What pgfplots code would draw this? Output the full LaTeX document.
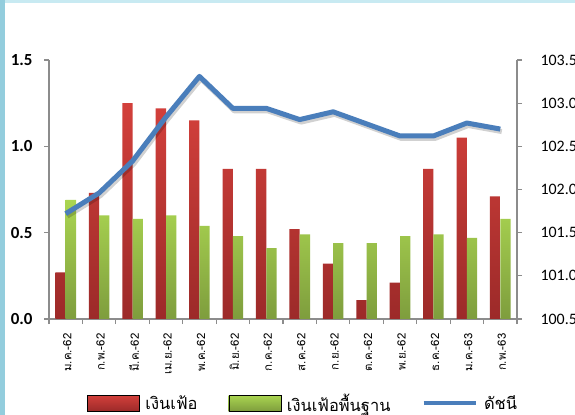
\documentclass[border=0pt]{standalone}
\usepackage{fontspec}
\usepackage{pgfplots}
\pgfplotsset{compat=1.18}
\setmainfont{Carlito}
\newfontfamily\thaifont[Script=Thai]{Loma}
\definecolor{redtop}{HTML}{D3403B}
\definecolor{redbot}{HTML}{9C2A29}
\definecolor{greentop}{HTML}{AAD551}
\definecolor{greenbot}{HTML}{7E9D3D}
\definecolor{lineblue}{HTML}{4A7EBB}
\definecolor{axgray}{HTML}{8C8C8C}
\definecolor{leftstrip}{HTML}{93CDDD}
\definecolor{topstrip}{HTML}{C8EAF2}
\begin{document}
\begin{tikzpicture}
\useasboundingbox (0bp,0bp) rectangle (575bp,415bp);
\clip (0bp,0bp) rectangle (575bp,415bp);
\fill[white] (0bp,0bp) rectangle (575bp,415bp);
\fill[leftstrip] (0bp,0bp) rectangle (5bp,415bp);
\fill[topstrip] (5bp,412bp) rectangle (575bp,415bp);
\begin{axis}[
  at={(49bp,96bp)}, anchor=south west, scale only axis,
  width=468bp, height=259bp,
  xmin=0, xmax=14, ymin=0, ymax=1.5,
  axis y line*=left, axis x line*=bottom,
  axis line style={axgray, line width=1.2bp, -},
  tick align=outside,
  major tick length=5bp, minor tick length=5bp,
  ytick={0,0.5,1,1.5},
  yticklabel style={font=\bfseries\fontsize{17}{17}\selectfont, xshift=-8bp, /pgf/number format/.cd, fixed, precision=1, fixed zerofill, assume math mode=true},
  y tick style={axgray, line width=1.2bp},
  xtick={0.5,1.5,...,13.5},
  xticklabels={ม.ค.-62, ก.พ.-62, มี.ค.-62, เม.ย.-62, พ.ค.-62, มิ.ย.-62, ก.ค.-62, ส.ค.-62, ก.ย.-62, ต.ค.-62, พ.ย.-62, ธ.ค.-62, ม.ค.-63, ก.พ.-63},
  xticklabel style={font=\thaifont\fontsize{11.5}{13}\selectfont, rotate=90, anchor=east, xshift=-6bp, yshift=-1.5bp},
  major x tick style={draw=none},
  minor xtick={0,1,...,14},
  minor x tick style={axgray, line width=1.2bp},
  ybar, bar width=10.3bp,
]
\addplot[draw=none, top color=redtop, bottom color=redbot, bar shift=-5.15bp] coordinates {
(0.5,0.27) (1.5,0.73) (2.5,1.25) (3.5,1.22) (4.5,1.15) (5.5,0.87) (6.5,0.87)
(7.5,0.52) (8.5,0.32) (9.5,0.11) (10.5,0.21) (11.5,0.87) (12.5,1.05) (13.5,0.71)};
\addplot[draw=none, top color=greentop, bottom color=greenbot, bar shift=5.15bp] coordinates {
(0.5,0.69) (1.5,0.60) (2.5,0.58) (3.5,0.60) (4.5,0.54) (5.5,0.48) (6.5,0.41)
(7.5,0.49) (8.5,0.44) (9.5,0.44) (10.5,0.48) (11.5,0.49) (12.5,0.47) (13.5,0.58)};
\end{axis}
\begin{axis}[
  at={(49bp,96bp)}, anchor=south west, scale only axis,
  width=468bp, height=259bp,
  xmin=0, xmax=14, ymin=100.5, ymax=103.5,
  axis y line*=right, axis x line=none,
  axis line style={axgray, line width=1.2bp, -},
  tick align=outside, major tick length=5bp,
  ytick={100.5,101,...,103.5},
  yticklabel style={font=\fontsize{16}{16}\selectfont, xshift=15bp, /pgf/number format/.cd, fixed, precision=1, fixed zerofill, assume math mode=true},
  y tick style={axgray, line width=1.2bp},
  legend columns=3,
  legend style={at={(0.081,-0.325)}, anchor=west, draw=none, fill=none, inner sep=0pt,
    nodes={inner ysep=0pt},
    font=\thaifont\fontsize{16.5}{18}\selectfont,
    /tikz/every even column/.append style={column sep=29bp}},
]
\addlegendimage{legend image code/.code={\shade[top color=redtop, bottom color=redbot] (0bp,-8bp) rectangle (52bp,8bp); \path (56bp,0bp);}}
\addlegendentry{เงินเฟ้อ}
\addlegendimage{legend image code/.code={\shade[top color=greentop, bottom color=greenbot] (0bp,-8bp) rectangle (52bp,8bp); \path (56bp,0bp);}}
\addlegendentry{เงินเฟ้อพื้นฐาน}
\addplot[forget plot, black, opacity=0.18, line width=5bp, line join=round, xshift=1.5bp, yshift=-2.5bp] coordinates {
(0.5,101.72) (1.5,101.96) (2.5,102.33) (3.5,102.84) (4.5,103.31) (5.5,102.94) (6.5,102.94)
(7.5,102.81) (8.5,102.90) (9.5,102.76) (10.5,102.62) (11.5,102.62) (12.5,102.77) (13.5,102.70)};
\addplot[lineblue, line width=5bp, line join=round, legend image code/.code={\draw[lineblue, line width=4bp] (0bp,0bp) -- (52bp,0bp); \path (56bp,0bp);}] coordinates {
(0.5,101.72) (1.5,101.96) (2.5,102.33) (3.5,102.84) (4.5,103.31) (5.5,102.94) (6.5,102.94)
(7.5,102.81) (8.5,102.90) (9.5,102.76) (10.5,102.62) (11.5,102.62) (12.5,102.77) (13.5,102.70)};
\addlegendentry{ดัชนี}
\end{axis}
\end{tikzpicture}
\end{document}
